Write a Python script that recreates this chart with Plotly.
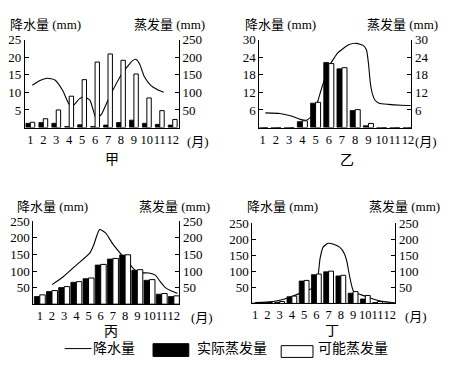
import plotly.graph_objects as go

W, H = 457, 371
OFF = 8  # page body margin of the browser
FONT = "Liberation Serif, Noto Sans CJK SC, serif"

months = list(range(1, 13))
month_labels = [str(m) for m in months]

# 甲
jia_actual = [12, 14, 12, 3, 8, 3, 7, 14, 21, 12, 9, 7]
jia_potential = [15, 25, 50, 89, 136, 186, 209, 191, 152, 84, 48, 23]
jia_rain_x = [1.15, 1.7, 2.3, 2.9, 3.5, 4.0, 4.3, 4.8, 5.15, 5.6, 6.1, 6.5, 7.1, 8.1, 8.9, 9.15, 9.45, 9.8, 10.3, 10.8, 11.3]
jia_rain = [12, 13.3, 14, 13.5, 10.5, 6.6, 6.2, 8.2, 8.7, 7.8, 2.4, 3.8, 8.6, 15.4, 19, 19.4, 18, 14.5, 12, 10.8, 10]

# 乙
yi_actual = [0, 0, 0, 2.0, 8.3, 22.2, 20.0, 5.8, 0.6, 0, 0, 0]
yi_potential = [0, 0, 0, 2.3, 8.6, 21.8, 20.4, 6.1, 1.4, 0, 0, 0]
yi_rain_x = [1.2, 2.3, 3.1, 3.9, 4.3, 4.8, 5.5, 6.1, 6.7, 7.5, 8.1, 8.6, 8.85, 9.0, 9.15, 9.3, 9.5, 9.8, 10.5, 11.5, 12.2]
yi_rain = [5.0, 4.8, 4.0, 2.7, 2.5, 4.2, 14, 21.5, 25.5, 28.2, 28.7, 28, 26.5, 22, 15, 11.5, 9.3, 8.3, 7.9, 7.6, 7.5]

# 丙
bing_actual = [23, 38, 50, 66, 77, 118, 136, 148, 102, 72, 30, 23]
bing_potential = [28, 41, 53, 68, 79, 120, 138, 149, 104, 74, 32, 25]
bing_rain_x = [2.0, 2.9, 4.0, 5.1, 5.4, 5.9, 6.4, 7.0, 8.05, 8.75, 9.15, 9.95, 10.5, 10.9, 11.3, 11.8, 12.3]
bing_rain = [59, 82, 118, 154, 176, 225, 215, 181, 134, 105, 95, 94, 87, 67, 50, 40, 33]

# 丁
ding_actual = [1, 2, 4, 21, 70, 90, 99, 86, 32, 14, 3, 1]
ding_potential = [1, 3, 6, 23, 72, 92, 101, 88, 37, 25, 6, 2]
ding_rain_x = [1.0, 1.9, 2.9, 4.0, 5.0, 5.7, 6.1, 6.3, 6.55, 6.95, 7.35, 7.9, 8.3, 8.5, 8.7, 9.05, 10.05, 11.1, 12.35]
ding_rain = [3, 4, 9, 22, 37, 49, 78, 140, 176, 188, 186, 176, 155, 130, 88, 37, 22, 8, 2]

panel_names = ["甲", "乙", "丙", "丁"]
rain_ticks = [[5, 10, 15, 20, 25], [6, 12, 18, 24, 30], [50, 100, 150, 200, 250], [50, 100, 150, 200, 250]]
evap_ticks = [[50, 100, 150, 200, 250], [6, 12, 18, 24, 30], [50, 100, 150, 200, 250], [50, 100, 150, 200, 250]]
rain_max = [25, 30, 250, 250]
evap_max = [250, 30, 250, 250]

actuals = [jia_actual, yi_actual, bing_actual, ding_actual]
potentials = [jia_potential, yi_potential, bing_potential, ding_potential]
rain_xs = [jia_rain_x, yi_rain_x, bing_rain_x, ding_rain_x]
rains = [jia_rain, yi_rain, bing_rain, ding_rain]

# layout geometry in screen pixels: left axis, right axis, month-1 position, month spacing, baseline, top
geom = [
    dict(left=25, right=180, m1=30.5, sp=13.03, base=122.7, top=33, bw=0.34),
    dict(left=261, right=414, m1=264.4, sp=13.3, base=122.7, top=33, bw=0.38),
    dict(left=33.5, right=180.5, m1=40, sp=12.27, base=302.7, top=218.3, bw=0.45),
    dict(left=254, right=398, m1=256.8, sp=12.32, base=302, top=220.5, bw=0.40),
]


def px(x):
    return (x - OFF) / W


def py(y):
    return 1 - (y - OFF) / H


fig = go.Figure()
layout = dict(
    width=W, height=H, margin=dict(l=0, r=0, t=0, b=0),
    paper_bgcolor="white", plot_bgcolor="white",
    showlegend=False, barmode="overlay",
    font=dict(family=FONT, size=13, color="black"),
)

tickfont = dict(family=FONT, size=13, color="black")

for i in range(4):
    g = geom[i]
    xid = "x" if i == 0 else f"x{i+1}"
    xkey = "xaxis" if i == 0 else f"xaxis{i+1}"
    yl = f"y{2*i+1}" if i > 0 else "y"
    ylkey = "yaxis" if i == 0 else f"yaxis{2*i+1}"
    yr = f"y{2*i+2}"
    yrkey = f"yaxis{2*i+2}"
    xr = [1 + (g["left"] - g["m1"]) / g["sp"], 1 + (g["right"] - g["m1"]) / g["sp"]]
    layout[xkey] = dict(
        domain=[px(g["left"]), px(g["right"])], range=xr, anchor=yl,
        tickvals=months, ticktext=month_labels, ticks="", showline=True,
        linecolor="black", linewidth=1, showgrid=False, zeroline=False,
        tickfont=dict(family=FONT, size=12.5, color="black"), tickangle=0, fixedrange=True,
    )
    ydom = [py(g["base"]), py(g["top"])]
    layout[ylkey] = dict(
        domain=ydom, range=[0, rain_max[i]], anchor=xid, side="left",
        tickvals=rain_ticks[i], ticks="inside", ticklen=4, tickcolor="black",
        showline=True, linecolor="black", linewidth=1, showgrid=False,
        zeroline=False, tickfont=tickfont,
    )
    layout[yrkey] = dict(
        domain=ydom, range=[0, evap_max[i]], anchor=xid, side="right",
        overlaying=yl, tickvals=evap_ticks[i], ticks="inside", ticklen=4,
        tickcolor="black", showline=True, linecolor="black", linewidth=1,
        showgrid=False, zeroline=False, tickfont=tickfont,
    )
    bw = g["bw"]
    fig.add_trace(go.Bar(
        x=months, y=actuals[i], xaxis=xid, yaxis=yr, width=bw, offset=-bw,
        marker=dict(color="black", line=dict(color="black", width=0.8)),
    ))
    fig.add_trace(go.Bar(
        x=months, y=potentials[i], xaxis=xid, yaxis=yr, width=bw, offset=0,
        marker=dict(color="white", line=dict(color="black", width=1)),
    ))
    fig.add_trace(go.Scatter(
        x=rain_xs[i], y=rains[i], xaxis=xid, yaxis=yl, mode="lines",
        line=dict(color="black", width=1.1, shape="spline", smoothing=0.5),
        cliponaxis=False,
    ))

annotations = []


def ann(text, x, y, xanchor="center", size=13.5):
    annotations.append(dict(
        text=text, x=px(x), y=py(y), xref="paper", yref="paper",
        xanchor=xanchor, yanchor="middle", showarrow=False,
        font=dict(family=FONT, size=size, color="black"),
    ))


# axis titles
title_pos = [
    (8, 208, 18), (245, 443, 18), (15, 213, 203), (247, 445, 203)
]
for (lx, rx, ty) in title_pos:
    ann("降水量 (mm)", lx, ty, "left", 13)
    ann("蒸发量 (mm)", rx, ty, "right", 13)

# month unit labels
for (x, y) in [(199, 137), (429, 137), (203, 316), (419, 315)]:
    ann("(月)", x, y, "center", 13)

# panel names
for name, (x, y) in zip(panel_names, [(113, 155), (349, 156), (112, 331), (334, 330)]):
    ann(name, x, y, "center", 14)

# legend
ann("降水量", 92, 348, "left", 14)
ann("实际蒸发量", 196, 348, "left", 14)
ann("可能蒸发量", 318, 348, "left", 14)

shapes = [
    dict(type="line", xref="paper", yref="paper", x0=px(65), x1=px(92), y0=py(348), y1=py(348),
         line=dict(color="black", width=1)),
    dict(type="rect", xref="paper", yref="paper", x0=px(154), x1=px(190), y0=py(343), y1=py(356),
         fillcolor="black", line=dict(color="black", width=1)),
    dict(type="rect", xref="paper", yref="paper", x0=px(283), x1=px(315), y0=py(345), y1=py(357),
         fillcolor="white", line=dict(color="black", width=1)),
]

layout["annotations"] = annotations
layout["shapes"] = shapes
fig.update_layout(**layout)
fig.write_html("out.html")
